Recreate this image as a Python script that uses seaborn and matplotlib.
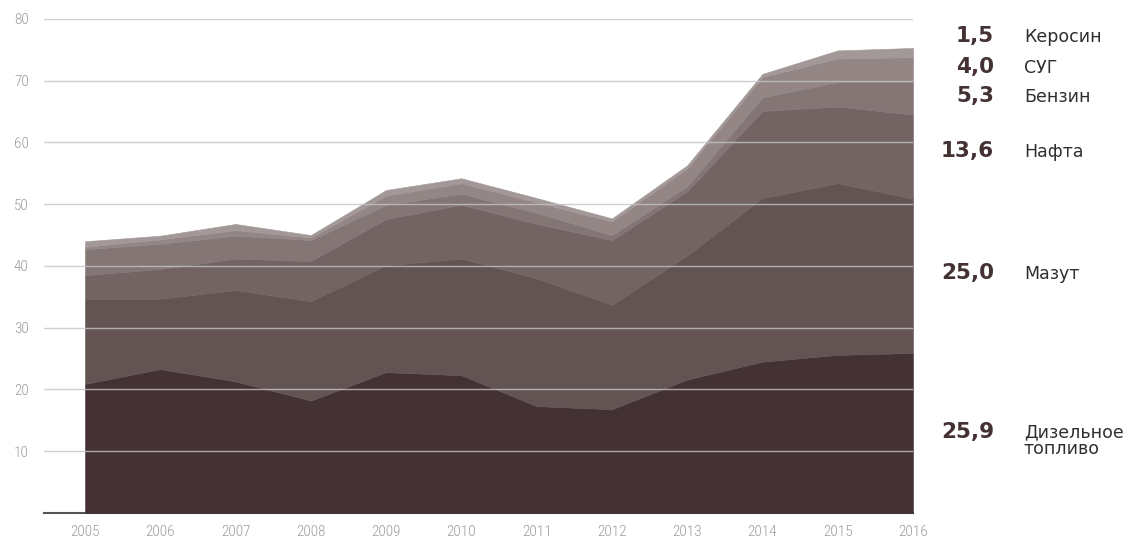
import matplotlib
matplotlib.use("Agg")
import matplotlib.pyplot as plt
import seaborn as sns
import numpy as np
from matplotlib import font_manager

years = [2005, 2006, 2007, 2008, 2009, 2010, 2011, 2012, 2013, 2014, 2015, 2016]

diesel   = [20.9, 23.3, 21.3, 18.2, 22.8, 22.3, 17.3, 16.8, 21.6, 24.5, 25.6, 25.9]
mazut    = [13.8, 11.4, 14.8, 16.1, 17.3, 18.9, 20.7, 16.9, 20.1, 26.5, 27.8, 25.0]
nafta    = [3.8, 4.8, 5.1, 6.5, 7.5, 8.7, 8.8, 10.5, 10.4, 14.1, 12.4, 13.6]
benzin   = [4.2, 4.1, 3.7, 3.4, 2.3, 1.8, 1.8, 0.8, 0.8, 2.2, 4.0, 5.3]
sug      = [0.4, 0.7, 0.9, 0.4, 1.5, 1.7, 1.7, 2.2, 2.9, 3.3, 3.8, 4.0]
kerosin  = [0.9, 0.6, 1.0, 0.4, 0.9, 0.8, 0.7, 0.5, 0.5, 0.5, 1.3, 1.5]

series_names = [["Дизельное", "топливо"], ["Мазут"], ["Нафта"], ["Бензин"], ["СУГ"], ["Керосин"]]
label_values = ["25,9", "25,0", "13,6", "5,3", "4,0", "1,5"]
label_y = [12.2, 37.9, 57.6, 66.5, 71.2, 76.2]
line_step = 2.7

yticks = [10, 20, 30, 40, 50, 60, 70, 80]

colors = ["#443133", "#645353", "#736363", "#857676", "#938685", "#a39898"]

sns.set_theme(style="white")
avail = {f.name for f in font_manager.fontManager.ttflist}
tick_family = None
for cand in ["Roboto Condensed", "Liberation Sans Narrow", "DejaVu Sans Condensed", "Roboto"]:
    if cand in avail:
        tick_family = cand
        break
if tick_family is None:
    tick_family = "DejaVu Sans"
plt.rcParams["font.family"] = ["DejaVu Sans"]

fig = plt.figure(figsize=(11.35, 5.41), dpi=100)
ax = fig.add_axes([44 / 1135, 1 - 513 / 541, (913 - 44) / 1135, (513 - 18.9) / 541])

pal = sns.color_palette(colors)
polys = ax.stackplot(years, diesel, mazut, nafta, benzin, sug, kerosin,
                     colors=pal, linewidth=0.4)
for p, c in zip(polys, pal):
    p.set_edgecolor(c)

ax.set_xlim(2004.455, 2016)
ax.set_ylim(0, 80)
ax.set_yticks(yticks)
ax.set_xticks(years)
ax.set_xticklabels([str(y) for y in years])

ax.set_axisbelow(False)
ax.yaxis.grid(True, color="#c4c4c8", alpha=0.8, linewidth=1.0)
ax.xaxis.grid(False)

for s in ["top", "right", "left"]:
    ax.spines[s].set_visible(False)
ax.spines["bottom"].set_color("#555555")
ax.spines["bottom"].set_linewidth(1.5)
ax.spines["bottom"].set_zorder(0.5)

ax.tick_params(axis="y", length=0, pad=11, labelsize=11, labelcolor="#9c9c9c")
ax.tick_params(axis="x", length=0, pad=9, labelsize=11, labelcolor="#9c9c9c")
for lab in ax.get_xticklabels() + ax.get_yticklabels():
    lab.set_family(tick_family)
    lab.set_fontweight("light")
    lab.set_fontstretch("condensed")

trans = ax.get_yaxis_transform()
x_val = (994 - 44) / (913 - 44)
x_name = (1024 - 44) / (913 - 44)
for lines, val, yv in zip(series_names, label_values, label_y):
    ax.text(x_val, yv, val, transform=trans, ha="right", va="baseline",
            fontsize=15.5, fontweight="bold", color="#443133", clip_on=False)
    for i, line in enumerate(lines):
        ax.text(x_name, yv - i * line_step, line, transform=trans, ha="left",
                va="baseline", fontsize=12.5, color="#2e2e2e", clip_on=False)

fig.savefig("out.png", dpi=100)
